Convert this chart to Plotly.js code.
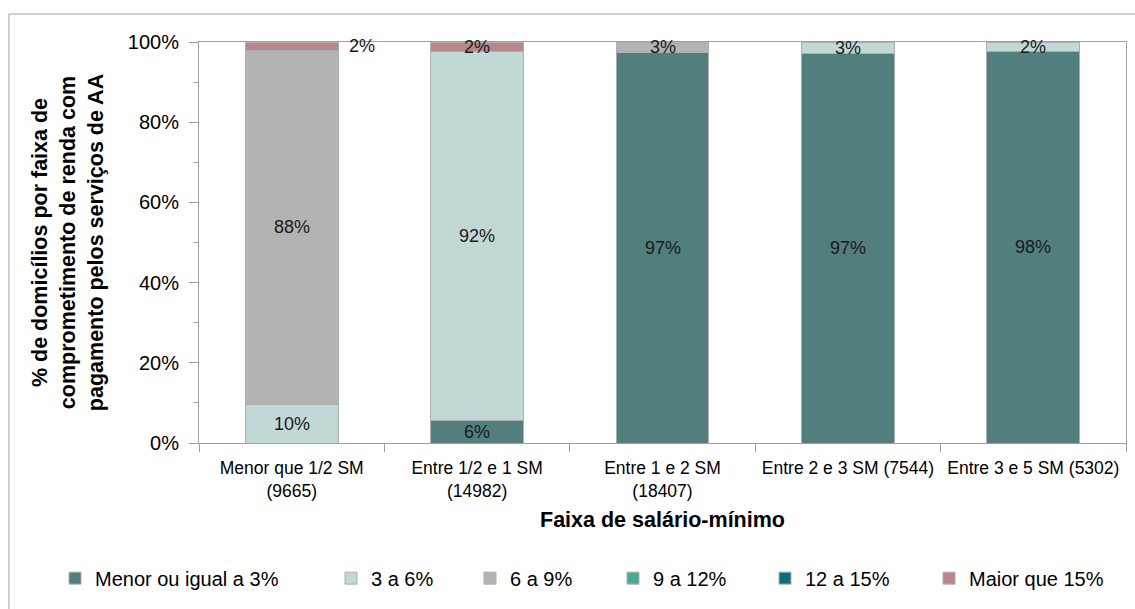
<!DOCTYPE html>
<html>
<head>
<meta charset="utf-8">
<script src="https://cdn.plot.ly/plotly-3.0.1.min.js"></script>
<style>html,body{margin:0;padding:0;background:#fff;}#chart{width:1135px;height:609px;}</style>
</head>
<body>
<div id="chart"></div>
<script>
// Categories (x-axis tick labels)
const categories = ['Menor que 1/2 SM<br>(9665)', 'Entre 1/2 e 1 SM<br>(14982)', 'Entre 1 e 2 SM<br>(18407)', 'Entre 2 e 3 SM (7544)', 'Entre 3 e 5 SM (5302)'];
// Series names
const seriesNames = ['Menor ou igual a 3%', '3 a 6%', '6 a 9%', '9 a 12%', '12 a 15%', 'Maior que 15%'];
// Series values (% of households)
const menorIgual3 = [0, 5.7, 97.4, 97.2, 97.7];
const de3a6 = [9.7, 92.0, 0, 2.8, 2.3];
const de6a9 = [88.2, 0, 2.6, 0, 0];
const de9a12 = [0, 0, 0, 0, 0];
const de12a15 = [0, 0, 0, 0, 0];
const maior15 = [2.1, 2.3, 0, 0, 0];
// Y tick labels
const yTickVals = [0, 20, 40, 60, 80, 100];
const yTickText = ['0%', '20%', '40%', '60%', '80%', '100%'];

const allSeries = [menorIgual3, de3a6, de6a9, de9a12, de12a15, maior15];
const colors = ['#527E7D', '#C2D8D6', '#B3B3B3', '#4CA898', '#0E6E7E', '#B9868E'];
const FONT = 'Liberation Sans, Arial, sans-serif';

// legend item left positions (px in the page)
const legendPx = [55, 331, 470, 613, 765, 929];
const plotL = 199, plotW = 927;

const legendKeys = ['legend', 'legend2', 'legend3', 'legend4', 'legend5', 'legend6'];

const traces = allSeries.map((vals, i) => ({
  type: 'bar',
  name: seriesNames[i],
  x: categories,
  y: vals.map(v => v > 0 ? v : null),
  marker: {color: colors[i], line: {color: '#AFAFAF', width: 1}},
  hoverinfo: 'skip',
  showlegend: true,
  legend: legendKeys[i]
}));

// data labels from cumulative positions
const annotations = [];
categories.forEach((c, ci) => {
  let base = 0;
  allSeries.forEach((vals, si) => {
    const v = vals[ci];
    if (v > 0) {
      const outside = (si === 5 && ci === 0);
      annotations.push({
        x: c, y: base + v / 2, xref: 'x', yref: 'y',
        text: Math.round(v) + '%', showarrow: false,
        xshift: outside ? 70 : 0,
        font: {family: FONT, size: 18, color: '#1a1a1a'}
      });
    }
    base += v;
  });
});

const layout = {
  width: 1135, height: 609,
  margin: {l: 199, r: 9, t: 42, b: 166},
  paper_bgcolor: '#fff', plot_bgcolor: '#fff',
  barmode: 'stack', bargap: 0.5,
  font: {family: FONT, color: '#000'},
  xaxis: {
    type: 'category',
    showline: true, linecolor: '#A0A0A0', linewidth: 1, mirror: true,
    ticks: 'outside', tickson: 'boundaries', ticklen: 8, tickcolor: '#A0A0A0',
    tickangle: 0,
    ticklabelstandoff: 9,
    tickfont: {family: FONT, size: 17.5, color: '#000'},
    title: {text: '<b>Faixa de salário-mínimo</b>', font: {family: FONT, size: 21.5, color: '#000'}, standoff: 12},
    fixedrange: true
  },
  yaxis: {
    range: [0, 100],
    tickvals: yTickVals, ticktext: yTickText,
    showgrid: false, zeroline: false,
    showline: true, linecolor: '#A0A0A0', linewidth: 1, mirror: true,
    ticks: 'outside', ticklen: 9, tickcolor: '#A0A0A0',
    ticklabelstandoff: 6,
    minor: {dtick: 10, ticks: 'outside', ticklen: 5, tickcolor: '#A0A0A0', showgrid: false},
    tickfont: {family: FONT, size: 20, color: '#000'},
    title: {text: '<b>% de domicílios por faixa de<br>comprometimento de renda com<br>pagamento pelos serviços de AA</b>', font: {family: FONT, size: 21.5, color: '#000'}, standoff: 18},
    fixedrange: true
  },
  shapes: [{
    type: 'rect', xref: 'paper', yref: 'paper',
    x0: -0.205, x1: 1.3, y0: -0.6, y1: 1.0698,
    line: {color: '#A6A6A6', width: 1}, fillcolor: 'rgba(0,0,0,0)', layer: 'below'
  }],
  annotations: annotations,
  showlegend: true
};

legendKeys.forEach((k, i) => {
  layout[k] = {
    orientation: 'h', x: (legendPx[i] - plotL) / plotW, xanchor: 'left',
    y: -0.337, yanchor: 'middle',
    font: {family: FONT, size: 20, color: '#000'},
    itemwidth: 30, bgcolor: 'rgba(0,0,0,0)'
  };
});

Plotly.newPlot('chart', traces, layout, {displayModeBar: false, staticPlot: true});
</script>
</body>
</html>
